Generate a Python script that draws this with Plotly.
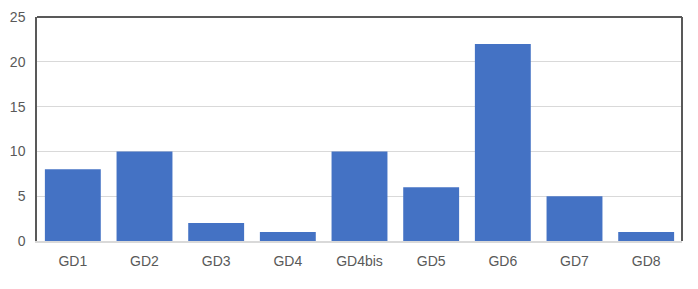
import plotly.graph_objects as go

categories = ["GD1", "GD2", "GD3", "GD4", "GD4bis", "GD5", "GD6", "GD7", "GD8"]
values = [8, 10, 2, 1, 10, 6, 22, 5, 1]
y_ticks = [0, 5, 10, 15, 20, 25]

fig = go.Figure(go.Bar(x=categories, y=values, marker=dict(color="#4472C4", line=dict(width=0))))

fig.update_layout(
    width=690, height=281,
    margin=dict(l=29, r=16, t=9, b=48),
    paper_bgcolor="white", plot_bgcolor="white",
    bargap=0.22,
    showlegend=False,
    font=dict(family="Liberation Sans, Arial, sans-serif", size=14, color="#595959"),
    xaxis=dict(showgrid=False, showline=True, linecolor="#D9D9D9", linewidth=2,
               ticks="", tickfont=dict(size=14, color="#595959"), ticklabelstandoff=6,
               automargin=False),
    yaxis=dict(range=[0, 25], tickvals=y_ticks, showgrid=True, gridcolor="#D9D9D9", gridwidth=1,
               zeroline=False, showline=True, linecolor="#595959", linewidth=1.5,
               ticks="", tickfont=dict(size=14, color="#595959"), ticklabelstandoff=7,
               automargin=False),
    shapes=[
        dict(type="line", xref="paper", yref="paper", x0=0, x1=1, y0=1, y1=1,
             line=dict(color="#595959", width=2)),
        dict(type="line", xref="paper", yref="paper", x0=1, x1=1, y0=0, y1=1,
             line=dict(color="#595959", width=2)),
    ],
)

fig.write_html("out.html")
